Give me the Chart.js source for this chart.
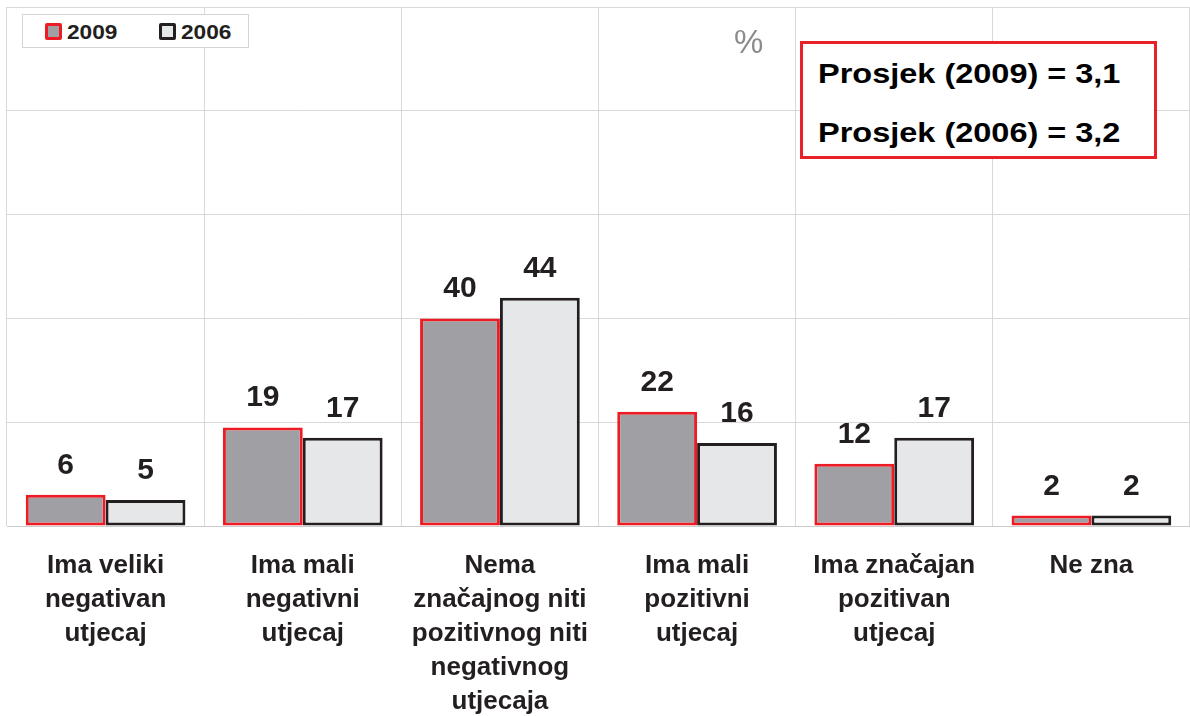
<!DOCTYPE html>
<html>
<head>
<meta charset="utf-8">
<script src="https://cdn.jsdelivr.net/npm/chart.js@4"></script>
<style>
  body { margin: 0; background: #fff; font-family: "Liberation Sans", Arial, sans-serif; }
  #wrap { position: relative; width: 1190px; height: 716px; }
  #legend {
    position: absolute; left: 22px; top: 14px; width: 225px; height: 32px;
    border: 1px solid #d4d4d4; background: #fff; box-sizing: content-box;
    font-weight: bold; font-size: 21px; color: #231f20;
  }
  .item { position: absolute; top: 6px; line-height: 22px; }
  .sw { position: absolute; top: 2px; width: 11px; height: 11px; border: 3px solid; border-radius: 2px; }
  .item span.t { position: absolute; white-space: nowrap; transform: scaleX(1.08); transform-origin: left center; }
  #pct { position: absolute; left: 734px; top: 23px; font-size: 33px; color: #8c8c8c; }
  #avg {
    position: absolute; left: 800px; top: 41px; width: 351px; height: 112px;
    border: 3px solid #e8202a; background: #fff;
    font-weight: bold; font-size: 28px; color: #000;
  }
  #avg div { position: absolute; left: 15px; white-space: nowrap; transform: scaleX(1.16); transform-origin: left center; }
</style>
</head>
<body>
<div id="wrap">
  <canvas id="chart" width="1190" height="716"></canvas>
  <div id="legend">
    <div class="item" style="left:22px"><div class="sw" style="left:0;border-color:#ed1c24;background:#a09fa4"></div><span class="t" style="left:22px">2009</span></div>
    <div class="item" style="left:136px"><div class="sw" style="left:0;border-color:#231f20;background:#e6e7e9"></div><span class="t" style="left:22px">2006</span></div>
  </div>
  <div id="pct">%</div>
  <div id="avg">
    <div style="top:14px">Prosjek (2009) = 3,1</div>
    <div style="top:73px">Prosjek (2006) = 3,2</div>
  </div>
</div>
<script>
const categories = [
  ['Ima veliki', 'negativan', 'utjecaj'],
  ['Ima mali', 'negativni', 'utjecaj'],
  ['Nema', 'značajnog niti', 'pozitivnog niti', 'negativnog', 'utjecaja'],
  ['Ima mali', 'pozitivni', 'utjecaj'],
  ['Ima značajan', 'pozitivan', 'utjecaj'],
  ['Ne zna']
];
const values2009 = [6, 19, 40, 22, 12, 2];
const values2006 = [5, 17, 44, 16, 17, 2];
const yTicks = [0, 20, 40, 60, 80, 100];

const valueLabels = {
  id: 'valueLabels',
  afterDatasetsDraw(chart) {
    const ctx = chart.ctx;
    ctx.save();
    ctx.font = 'bold 30px "Liberation Sans", Arial, sans-serif';
    ctx.fillStyle = '#231f20';
    ctx.textAlign = 'center';
    ctx.textBaseline = 'alphabetic';
    chart.data.datasets.forEach((ds, i) => {
      chart.getDatasetMeta(i).data.forEach((bar, j) => {
        ctx.fillText(ds.data[j], bar.x, bar.y - 21);
      });
    });
    ctx.restore();
  }
};

new Chart(document.getElementById('chart').getContext('2d'), {
  type: 'bar',
  data: {
    labels: categories,
    datasets: [{
      label: '2009',
      data: values2009,
      backgroundColor: '#a09fa4',
      borderColor: '#ed1c24',
      borderWidth: 3,
      borderSkipped: false
    }, {
      label: '2006',
      data: values2006,
      backgroundColor: '#e6e7e9',
      borderColor: '#231f20',
      borderWidth: 3,
      borderSkipped: false
    }]
  },
  options: {
    responsive: false,
    animation: false,
    layout: { padding: { left: 7, top: 7, right: 0, bottom: 0 } },
    datasets: { bar: { categoryPercentage: 0.81, barPercentage: 1.0 } },
    plugins: { legend: { display: false }, tooltip: { enabled: false } },
    scales: {
      x: {
        grid: { color: '#d9d9d9', drawTicks: false },
        border: { color: '#cccccc' },
        ticks: {
          color: '#231f20',
          padding: 23,
          maxRotation: 0,
          autoSkip: false,
          font: { family: '"Liberation Sans", Arial, sans-serif', size: 26, weight: 'bold', lineHeight: 1.31 }
        },
        afterFit(scale) { scale.height = 190; }
      },
      y: {
        min: yTicks[0],
        max: yTicks[yTicks.length - 1],
        afterBuildTicks(scale) { scale.ticks = yTicks.map(v => ({ value: v })); },
        grid: { color: '#d9d9d9', drawTicks: false },
        border: { display: false },
        ticks: { display: false }
      }
    }
  },
  plugins: [valueLabels]
});
</script>
</body>
</html>
